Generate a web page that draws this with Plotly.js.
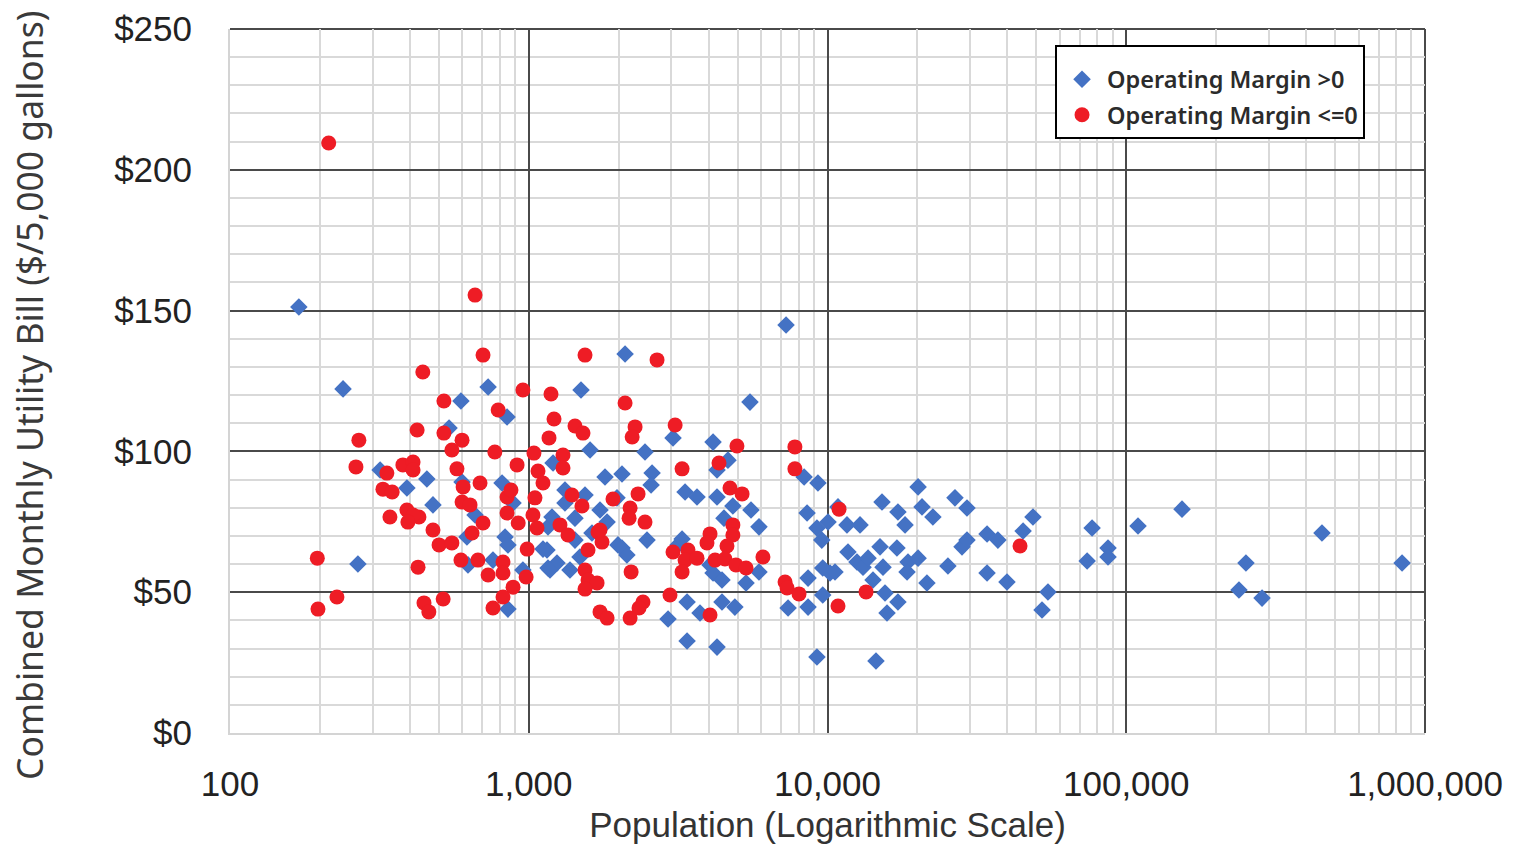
<!DOCTYPE html>
<html><head><meta charset="utf-8">
<script src="https://cdn.plot.ly/plotly-3.0.1.min.js"></script>
<style>html,body{margin:0;padding:0;background:#fff}#chart{width:1515px;height:844px}</style>
</head><body><div id="chart"></div>
<script>
const seriesNames = ['Operating Margin >0', 'Operating Margin <=0'];

const positivePopulation = [170,239,268,318,391,456,478,541,593,598,621,626,661,731,759,814,833,852,846,886,852,956,
1151,1160,1206,1160,1196,1243,1322,1322,1374,1428,1428,1484,1496,1543,1604,1628,1732,1800,1829,1974,1989,2052,2052,2131,2101,
2450,2488,2587,2567,2926,3040,3160,3260,3336,3388,3388,3658,3743,4044,4139,4139,4268,4268,4268,4434,4434,4503,4643,4823,4898,
5338,5502,5545,5897,5897,7266,7380,8350,8543,8608,8608,9220,9290,9220,9570,9640,9640,
10040,10195,10595,10843,11620,11710,12550,12850,13150,13670,14200,14530,14990,15220,15340,15580,15820,17210,17080,17210,
18180,18600,20100,18460,20100,20720,21520,22530,25300,26710,28200,29300,29300,34200,37190,34200,39880,45150,48730,52250,54700,
73980,76850,86900,86900,109500,153700,238400,251600,284800,452000,838000,1116,1178];
const positiveBill = [151.3,122.2,60.0,93.4,87.0,90.2,81.0,108.3,117.9,89.1,69.6,59.7,77.4,122.9,61.4,88.8,69.6,66.8,112.2,81.7,44.0,57.9,
65.0,58.6,95.9,73.2,76.7,60.4,86.3,81.7,57.9,76.3,68.5,62.5,121.8,84.5,100.5,71.0,79.2,90.9,74.9,83.5,66.8,92.0,65.7,63.2,134.6,
99.8,68.5,92.3,88.1,40.5,104.8,66.8,68.9,85.6,46.5,32.7,83.8,42.6,59.7,103.3,56.8,93.4,83.8,30.5,54.3,46.5,76.3,96.9,80.6,44.7,
53.3,117.5,79.2,73.2,57.2,144.9,44.4,90.9,78.1,55.0,44.7,72.8,88.8,27.0,68.5,58.6,49.0,
74.9,56.8,57.2,80.3,73.9,64.3,60.7,73.9,58.9,62.1,54.3,25.6,66.1,82.0,58.9,49.7,42.6,46.5,65.7,78.5,
73.9,60.7,62.1,57.2,87.4,80.3,53.3,76.7,59.3,83.5,66.1,68.5,79.9,70.7,68.5,56.8,53.6,71.7,76.7,43.7,50.1,
61.1,72.8,65.7,62.5,73.5,79.5,50.8,60.4,47.9,71.0,60.4,65.3,57.9];

const negativePopulation = [214,661,703,442,1543,956,1187,520,790,1215,423,520,1428,1519,1169,270,598,553,770,1041,1302,1302,
264,914,1074,379,410,410,575,335,325,349,391,343,429,687,603,846,872,1049,1395,1507,1914,1116,410,394,598,636,846,1033,922,1066,
703,478,646,501,553,988,196,426,593,676,820,820,731,980,886,820,228,197,446,463,517,759,1272,1353,1705,1759,1579,1543,1579,1693,
1543,1732,1829,2688,2101,2269,2219,3090,4976,3260,4333,2322,4716,5177,7778,7778,2184,2167,2450,4823,4823,4044,3950,4608,1732,
3040,3413,3336,3658,3260,4203,4537,4937,5338,6080,2201,2970,2412,2339,2184,4044,7210,7323,8029,10930,10843,13460,44100];
const negativeBill = [209.5,155.5,134.2,128.2,134.2,121.8,120.4,117.9,114.7,111.5,107.6,106.5,109.0,106.5,104.8,104.0,104.0,100.5,99.8,99.4,98.7,94.1,
94.5,95.2,93.0,95.2,96.2,93.4,93.8,92.3,86.6,85.6,79.2,76.7,76.7,88.8,87.4,83.8,86.3,83.5,84.5,80.6,83.1,88.8,77.4,74.9,82.0,81.0,78.1,77.4,74.6,72.8,
74.6,72.1,71.0,66.8,67.5,65.3,62.1,58.9,61.4,61.4,60.7,56.8,56.1,55.4,51.8,48.3,48.3,44.0,46.2,43.0,47.6,44.4,73.9,70.3,71.4,67.8,65.0,57.9,54.3,53.3,
51.1,43.0,40.8,132.5,117.2,108.7,105.1,109.4,101.9,93.8,95.9,84.9,87.0,84.9,101.6,93.8,79.9,76.3,74.9,73.9,70.3,70.7,67.5,66.4,72.1,
64.3,65.0,61.4,62.1,57.2,61.4,61.8,59.7,58.6,62.5,57.2,49.0,46.5,44.4,40.8,41.9,53.6,51.5,49.4,79.5,45.1,50.1,66.4];

const xTickValues = [100, 1000, 10000, 100000, 1000000];
const xTickLabels = ['100', '1,000', '10,000', '100,000', '1,000,000'];
const yTickValues = [0, 50, 100, 150, 200, 250];
const yTickLabels = ['$0', '$50', '$100', '$150', '$200', '$250'];
const xTitle = 'Population (Logarithmic Scale)';
const yTitle = 'Combined Monthly Utility Bill ($/5,000 gallons)';

const traces = [
  {
    x: positivePopulation, y: positiveBill, type: 'scatter', mode: 'markers',
    name: seriesNames[0], legendgroup: 'a',
    marker: {symbol: 'diamond', size: 13.5, color: '#4472C4'}
  },
  {
    x: negativePopulation, y: negativeBill, type: 'scatter', mode: 'markers',
    name: seriesNames[1], legendgroup: 'b',
    marker: {symbol: 'circle', size: 15, color: '#EE1C25'}
  }
];

const darkGrid = '#4a4a4a';

const layout = {
  width: 1515, height: 844,
  margin: {l: 230, r: 90, t: 29, b: 111},
  paper_bgcolor: '#ffffff', plot_bgcolor: '#ffffff',
  showlegend: true,
  legend: {
    x: 0.6904, y: 0.9773, xanchor: 'left', yanchor: 'top',
    bgcolor: '#ffffff', bordercolor: '#000000', borderwidth: 2,
    font: {family: 'Noto Sans', size: 23.5, color: '#2b2b2b', weight: 600},
    title: {text: '\u00a0', font: {size: 8}},
    traceorder: 'grouped', tracegroupgap: 2, itemwidth: 40
  },
  xaxis: {
    type: 'log', range: [2, 6],
    tickvals: xTickValues, ticktext: xTickLabels,
    tickfont: {family: 'Liberation Sans', size: 35, color: '#222'},
    ticks: '', ticklabelstandoff: 19,
    showgrid: true, gridcolor: darkGrid, gridwidth: 2,
    minor: {dtick: 'D1', showgrid: true, gridcolor: '#d9d9d9', gridwidth: 2, ticks: ''},
    showline: true, linecolor: '#d4d4d4', linewidth: 2,
    zeroline: false,
    title: {text: xTitle, font: {family: 'Liberation Sans', size: 35, color: '#333'}, standoff: 14}
  },
  yaxis: {
    range: [0, 250],
    tickvals: yTickValues, ticktext: yTickLabels,
    tickfont: {family: 'Liberation Sans', size: 35, color: '#222'},
    ticks: '', ticklabelstandoff: 29,
    showgrid: true, gridcolor: darkGrid, gridwidth: 2,
    minor: {dtick: 10, showgrid: true, gridcolor: '#d9d9d9', gridwidth: 2, ticks: ''},
    showline: true, linecolor: '#d4d4d4', linewidth: 2,
    zeroline: false
  },
  annotations: [
    {
      text: yTitle, textangle: -90, showarrow: false,
      xref: 'paper', yref: 'paper', x: -0.1682, y: 0.4787,
      xanchor: 'center', yanchor: 'middle',
      font: {family: 'Noto Sans', size: 35.5, color: '#3a3a3a'}
    }
  ],
  shapes: [
    {type: 'line', xref: 'paper', yref: 'paper', x0: 0, x1: 1, y0: 1, y1: 1, line: {color: darkGrid, width: 2}, layer: 'below'},
    {type: 'line', xref: 'paper', yref: 'paper', x0: 1, x1: 1, y0: 0, y1: 1, line: {color: darkGrid, width: 2}, layer: 'below'}
  ]
};

Plotly.newPlot('chart', traces, layout, {displayModeBar: false, staticPlot: true});
</script>
</body></html>
